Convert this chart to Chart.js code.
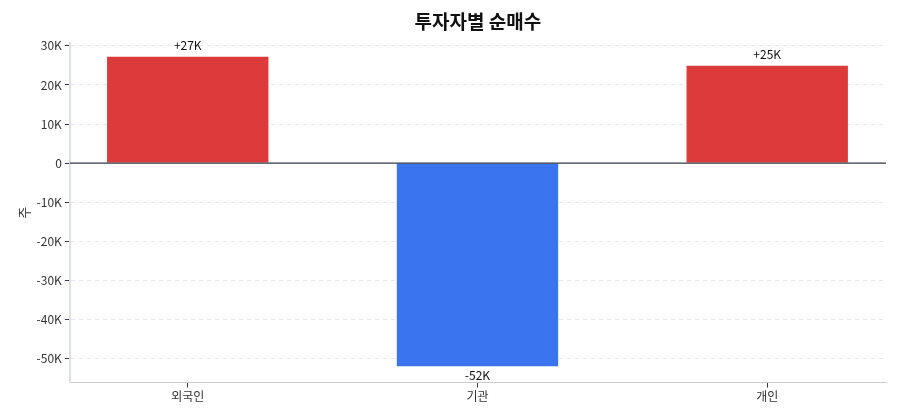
<!DOCTYPE html>
<html>
<head>
<meta charset="utf-8">
<script src="https://cdn.jsdelivr.net/npm/chart.js@4/dist/chart.umd.min.js"></script>
<style>
  body { margin: 0; background: #fff; }
  #wrap { width: 900px; height: 420px; }
</style>
</head>
<body>
<div id="wrap"><canvas id="myChart"></canvas></div>
<script>
const investors = ['외국인', '기관', '개인'];
const netBuy = [27200, -52000, 24900];
const valueLabels = ['+27K', '-52K', '+25K'];
const yTicks = [-50000, -40000, -30000, -20000, -10000, 0, 10000, 20000, 30000];

const FONT = '"Noto Sans CJK KR", "Noto Sans", sans-serif';

// 막대 위/아래 값 표시 + 0 기준선
const barLabels = {
    id: 'barLabels',
    afterDatasetsDraw(chart) {
        const ctx = chart.ctx;
        const area = chart.chartArea;
        const y0 = chart.scales.y.getPixelForValue(0);
        ctx.save();
        ctx.strokeStyle = '#333845';
        ctx.lineWidth = 1.3;
        ctx.beginPath();
        ctx.moveTo(area.left, y0);
        ctx.lineTo(area.right, y0);
        ctx.stroke();

        const meta = chart.getDatasetMeta(0);
        ctx.font = '12px ' + FONT;
        ctx.fillStyle = '#111';
        ctx.textAlign = 'center';
        meta.data.forEach((bar, i) => {
            if (netBuy[i] >= 0) {
                ctx.textBaseline = 'bottom';
                ctx.fillText(valueLabels[i], bar.x, bar.y - 5);
            } else {
                ctx.textBaseline = 'top';
                ctx.fillText(valueLabels[i], bar.x, bar.y + 3);
            }
        });
        ctx.restore();
    }
};

const ctx = document.getElementById('myChart').getContext('2d');
new Chart(ctx, {
    type: 'bar',
    data: {
        datasets: [{
            data: investors.map((name, i) => ({ x: i, y: netBuy[i] })),
            backgroundColor: netBuy.map(v => v >= 0 ? '#dd3b3b' : '#3b74ef'),
            barPercentage: 0.557,
            categoryPercentage: 1.0
        }]
    },
    options: {
        responsive: true,
        maintainAspectRatio: false,
        animation: false,
        layout: { padding: { left: 14, right: 14, top: 9, bottom: 14 } },
        plugins: {
            legend: { display: false },
            tooltip: { enabled: false },
            title: {
                display: true,
                text: '투자자별 순매수',
                fullSize: false,
                color: '#111',
                font: { family: FONT, size: 19, weight: 'bold' },
                padding: { top: 1, bottom: 10 }
            }
        },
        scales: {
            x: {
                type: 'linear',
                offset: false,
                min: -0.407,
                max: 2.41,
                afterBuildTicks: axis => {
                    axis.ticks = investors.map((name, i) => ({ value: i }));
                },
                grid: {
                    offset: false,
                    drawOnChartArea: false,
                    drawTicks: true,
                    tickLength: 5,
                    tickColor: '#333845'
                },
                border: { display: true, color: '#c9ccd6' },
                ticks: {
                    color: '#333',
                    font: { family: FONT, size: 12 },
                    padding: 2,
                    callback: v => investors[v]
                }
            },
            y: {
                min: -56200,
                max: 30800,
                afterBuildTicks: axis => {
                    axis.ticks = yTicks.map(v => ({ value: v }));
                },
                grid: {
                    color: c => c.tick && c.tick.value === 0 ? 'rgba(0,0,0,0)' : '#e5e7eb',
                    tickColor: '#333845',
                    tickLength: 5,
                    drawTicks: true
                },
                border: { display: true, color: '#dde0e6', width: 2, dash: [4, 4] },
                ticks: {
                    color: '#333',
                    font: { family: FONT, size: 12 },
                    padding: 3,
                    callback: v => v === 0 ? '0' : (v / 1000) + 'K'
                },
                title: {
                    display: true,
                    text: '주',
                    color: '#333',
                    font: { family: FONT, size: 13 },
                    padding: 2
                }
            }
        }
    },
    plugins: [barLabels]
});
</script>
</body>
</html>
